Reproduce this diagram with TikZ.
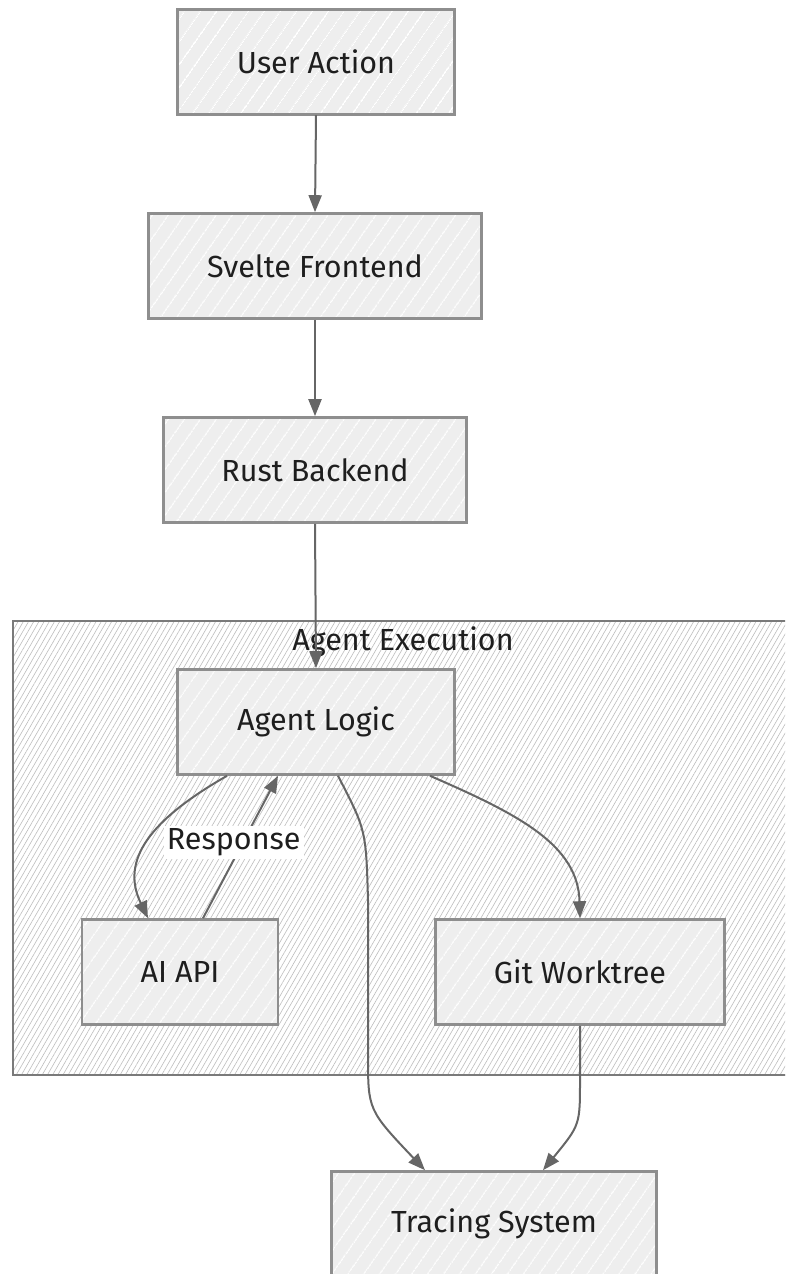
\documentclass[tikz,border=0pt]{standalone}
\usepackage{fontspec}
\setmainfont{Fira Sans}
\usetikzlibrary{arrows.meta,patterns.meta}
\definecolor{nodefill}{HTML}{EEEEEE}
\definecolor{nodeline}{HTML}{8E8E8E}
\definecolor{edgecol}{HTML}{666666}
\definecolor{clusterline}{HTML}{7A7A7A}
\definecolor{txt}{HTML}{1E1E1E}
\tikzset{
  box/.style={draw=nodeline, line width=2.6pt, preaction={fill=nodefill},
    pattern={Lines[angle=55,distance=13pt,line width=1.1pt]}, pattern color=white,
    minimum height=105pt, inner sep=0pt, text=txt,
    font=\fontsize{30.5}{36}\selectfont},
  edge/.style={draw=edgecol, line width=2pt, -{Stealth[length=17pt,width=13pt,inset=0pt]}, fill=none},
  lbl/.style={fill=white, text=txt, inner sep=3pt, font=\fontsize{30.5}{36}\selectfont},
}
\begin{document}
\begin{tikzpicture}[x=1pt,y=-1pt]
\useasboundingbox (0,0) rectangle (785,1274);
\begin{scope}
\clip (0,0) rectangle (785,1274);
% cluster
\path[draw=clusterline, line width=2.2pt, preaction={fill=white},
  pattern={Lines[angle=60,distance=4.5pt,line width=0.6pt]}, pattern color=black!26]
  (13,621) rectangle (800,1075);
\node[text=txt, font=\fontsize{30.5}{36}\selectfont] (ctitle) at (403,642) {Agent Execution};
% nodes
\node[box, minimum width=277pt] (user) at (316,62) {User Action};
\node[box, minimum width=333pt] (svelte) at (315,266) {Svelte Frontend};
\node[box, minimum width=303pt] (rust) at (315,470) {Rust Backend};
\node[box, minimum width=277pt] (agent) at (316,722) {Agent Logic};
\node[box, minimum width=196pt] (aiapi) at (180,972) {AI API};
\node[box, minimum width=289pt] (git) at (580,972) {Git Worktree};
\node[box, minimum width=325pt] (tracing) at (494,1224) {Tracing System};
% edges
\draw[edge] (user.south) -- (svelte.north);
\draw[edge] (svelte.south) -- (rust.north);
\draw[edge] (rust.south) -- (agent.north);
\draw[edge] ([xshift=-89pt]agent.south) .. controls (150,820) and (120,860) .. ([xshift=-32pt]aiapi.north);
\draw[edge] ([xshift=23pt]aiapi.north) -- node[lbl, pos=0.53, xshift=-9pt] (resp) {Response} ([xshift=-38pt]agent.south);
\draw[edge] ([xshift=22pt]agent.south) .. controls (366,830) .. (368,900) -- (368,1055) .. controls (368,1110) .. ([xshift=-69pt]tracing.north);
\draw[edge] ([xshift=114pt]agent.south) .. controls (520,815) and (578,845) .. (git.north);
\draw[edge] (git.south) -- (580,1080) .. controls (580,1125) .. ([xshift=49pt]tracing.north);
\end{scope}
\end{tikzpicture}
\end{document}
